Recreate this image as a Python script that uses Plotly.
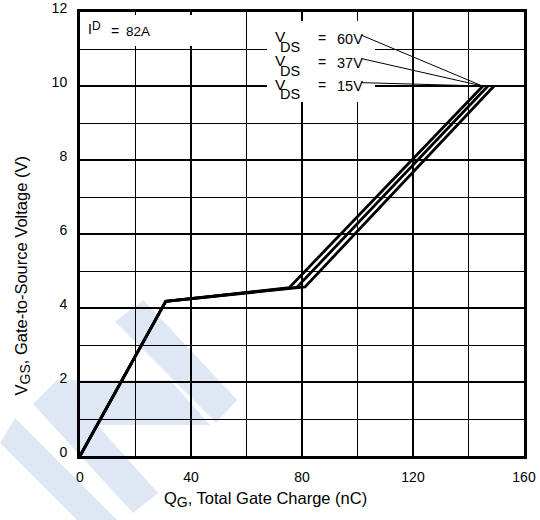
import plotly.graph_objects as go

# ---- data ----
qg_15 = [0, 30.9, 75.4, 145.2]
vgs_15 = [0, 4.18, 4.55, 10.0]
qg_37 = [0, 30.9, 78.2, 147.0]
vgs_37 = [0, 4.18, 4.56, 10.0]
qg_60 = [0, 30.9, 81.1, 149.2]
vgs_60 = [0, 4.18, 4.57, 10.0]

vds_labels = ["60V", "37V", "15V"]
leader_x0 = [101.5, 101.5, 101.5]
leader_y0 = [11.37, 10.74, 10.09]
leader_x1 = [145.0, 145.0, 145.0]
leader_y1 = [10.0, 10.0, 10.0]

x_ticks = [0, 40, 80, 120, 160]
y_ticks = [0, 2, 4, 6, 8, 10, 12]

FONT = "Liberation Sans, Arial, sans-serif"

# plot area geometry in pixels
L, T, W, H = 80, 12, 444, 444
FIG_W, FIG_H = 540, 520
XMAX, YMAX = 160.0, 12.0

def px(x):
    return (x - L) / W

def py(y):
    return (T + H - y) / H

def dx(x):
    return px(x) * XMAX

def dy(y):
    return py(y) * YMAX

fig = go.Figure()

for qx, vy in [(qg_15, vgs_15), (qg_37, vgs_37), (qg_60, vgs_60)]:
    fig.add_trace(go.Scatter(x=qx, y=vy, mode="lines",
                             line=dict(color="black", width=2.8),
                             hoverinfo="skip", showlegend=False))

for i in range(len(vds_labels)):
    fig.add_trace(go.Scatter(x=[leader_x0[i], leader_x1[i]],
                             y=[leader_y0[i], leader_y1[i]], mode="lines",
                             line=dict(color="black", width=1),
                             hoverinfo="skip", showlegend=False))

shapes = []
# watermark (light blue stripes), pixel polygons
wm_color = "#dfe7f5"
polys = [
    [(115, 321.7), (143.3, 300), (237.3, 400), (216, 422.7)],
    [(33, 404), (57, 380), (158, 493), (133, 513)],
    [(57, 380), (170, 380), (210, 425), (97, 425)],
    [(0, 443), (15, 418), (117, 520), (77, 520)],
]
for poly in polys:
    path = "M " + " L ".join(f"{px(a):.4f},{py(b):.4f}" for a, b in poly) + " Z"
    shapes.append(dict(type="path", xref="paper", yref="paper", path=path,
                       fillcolor=wm_color, line=dict(width=0), layer="below"))

# white boxes behind the labels (cover grid lines)
for (x0, y0, x1, y1) in [(82, 15, 230, 46), (267, 21, 375, 102)]:
    shapes.append(dict(type="rect", xref="x", yref="y",
                       x0=dx(x0), x1=dx(x1), y0=dy(y1), y1=dy(y0),
                       fillcolor="white", line=dict(width=0), layer="between"))

annotations = []

def txt(t, x, y, size, anchor="left"):
    annotations.append(dict(text=t, xref="paper", yref="paper",
                            x=px(x), y=py(y), xanchor=anchor, yanchor="middle",
                            showarrow=False, font=dict(family=FONT, size=size, color="black")))

# ID label
txt("I", 86, 29, 14)
txt("D", 90, 26, 12)
txt("=", 109, 31, 14)
txt("82A", 124, 31.5, 13.5)

# VDS labels
row_y = [39, 62.5, 86]
for lab, yy in zip(vds_labels, row_y):
    txt("V", 273, yy - 2, 15.5)
    txt("DS", 278, yy + 8, 14.5)
    txt("=", 316, yy - 1, 14)
    txt(lab, 335, yy, 14.5)

# axis titles
annotations.append(dict(text="Q<sub><span style='font-size:14px'>G</span></sub>, Total Gate Charge (nC)",
                        xref="paper", yref="paper",
                        x=px(162), y=py(499), xanchor="left", yanchor="middle",
                        showarrow=False, font=dict(family=FONT, size=16.5, color="black")))
annotations.append(dict(text="V<sub><span style='font-size:14px'>GS</span></sub>, Gate-to-Source Voltage (V)",
                        xref="paper", yref="paper",
                        x=px(22), y=py(398), xanchor="center", yanchor="bottom", textangle=-90,
                        showarrow=False, font=dict(family=FONT, size=16.5, color="black")))

fig.update_layout(
    width=FIG_W, height=FIG_H,
    margin=dict(l=L, r=FIG_W - L - W, t=T, b=FIG_H - T - H, pad=0),
    paper_bgcolor="white", plot_bgcolor="rgba(0,0,0,0)",
    shapes=shapes, annotations=annotations,
    font=dict(family=FONT, size=14, color="black"),
)
fig.update_xaxes(range=[0, XMAX], tickvals=x_ticks, ticks="", ticklabelstandoff=6,
                 automargin=False,
                 showgrid=True, gridcolor="black", gridwidth=2,
                 minor=dict(dtick=20, showgrid=True, gridcolor="black", gridwidth=1),
                 showline=True, mirror=True, linecolor="black", linewidth=3,
                 zeroline=False, tickfont=dict(family=FONT, size=14))
fig.update_yaxes(range=[0, YMAX], tickvals=y_ticks, ticks="", ticklabelstandoff=7,
                 ticklabelshift=-4, ticklabeloverflow="allow", automargin=False,
                 showgrid=True, gridcolor="black", gridwidth=2,
                 minor=dict(dtick=1, showgrid=True, gridcolor="black", gridwidth=1),
                 showline=True, mirror=True, linecolor="black", linewidth=3,
                 zeroline=False, tickfont=dict(family=FONT, size=14))

fig.write_html("out.html", post_script="document.body.style.margin='0';",
               config={"displayModeBar": False})
